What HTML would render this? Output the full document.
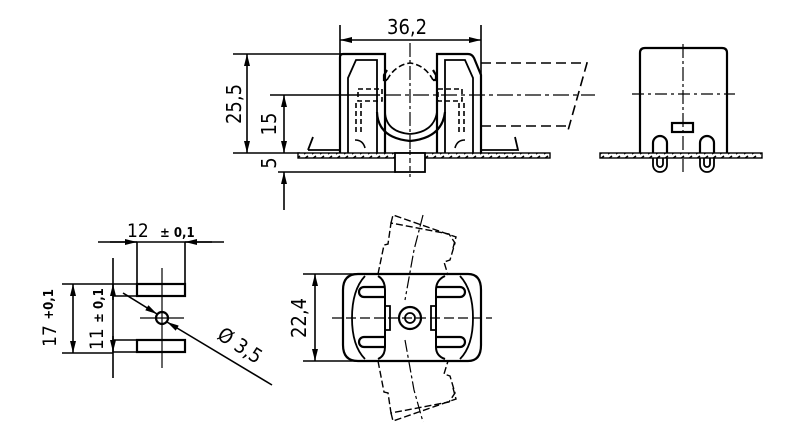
<!DOCTYPE html>
<html><head><meta charset="utf-8"><style>
html,body{margin:0;padding:0;background:#fff;}
svg{display:block;}
text{font-family:"DejaVu Sans Condensed","Liberation Sans",sans-serif;fill:#000;}
</style></head><body>
<svg width="800" height="434" viewBox="0 0 800 434" xmlns="http://www.w3.org/2000/svg">
<defs>
<marker id="a" markerWidth="12" markerHeight="6" refX="12" refY="3" orient="auto" markerUnits="userSpaceOnUse"><path d="M0,0 L12,3 L0,6 Z" fill="#000"/></marker>
<pattern id="h" width="8" height="5" patternUnits="userSpaceOnUse"><rect width="8" height="5" fill="#fff"/><path d="M0,4 L4,1" stroke="#000" stroke-width="1.5"/></pattern>
</defs>
<g fill="none" stroke="#000" stroke-width="1.6">
<!-- TOP VIEW -->
<line x1="340" y1="25" x2="340" y2="150"/>
<line x1="481" y1="25" x2="481" y2="150"/>
<line x1="410" y1="40" x2="340" y2="40" marker-end="url(#a)"/>
<line x1="410" y1="40" x2="481" y2="40" marker-end="url(#a)"/>
<line x1="233" y1="54" x2="345" y2="54"/>
<line x1="233" y1="153" x2="300" y2="153"/>
<line x1="247" y1="104" x2="247" y2="54" marker-end="url(#a)"/>
<line x1="247" y1="104" x2="247" y2="153" marker-end="url(#a)"/>
<line x1="270" y1="95" x2="380" y2="95"/>
<line x1="284" y1="124" x2="284" y2="95" marker-end="url(#a)"/>
<line x1="284" y1="124" x2="284" y2="153" marker-end="url(#a)"/>
<line x1="284" y1="210" x2="284" y2="172" marker-end="url(#a)"/>
<line x1="278" y1="172" x2="396" y2="172"/>
<path d="M340,153 V57 Q340,54 343,54 H385 V153" stroke-width="2.2"/>
<path d="M348,153 V78 L356,60 H377 V153" stroke-width="1.8"/>
<path d="M481,153 V75 L474,58 Q472,54 468,54 H437 V153" stroke-width="2.2"/>
<path d="M473,153 V78 L465,60 H445 V153" stroke-width="1.8"/>
<path d="M308,150 L313,137 M308,150 H340 M515,137 L518,150 H481" stroke-width="1.8"/>
<path d="M377,112 Q378,138 410,141 Q442,138 445,112" stroke-width="2.2"/>
<path d="M385,112 Q386,132 410,134 Q434,132 437,112" stroke-width="1.8"/>
<path d="M387,80 Q395,65 410,63 Q425,65 433,80" stroke-dasharray="6,3"/>
<path d="M387,70 l-3,5 v5 l3,0 M433,70 l3,5 v5 l-3,0" stroke-width="2.2"/>
<path d="M358,89 h24 v12 h-24 z M438,89 h24 v12 h-24 z" stroke-dasharray="5,3"/>
<path d="M356,103 v30 M361,103 v30 M459,103 v30 M464,103 v30" stroke-dasharray="5,3"/>
<path d="M355,140 q8,0 10,8 M465,140 q-8,0 -10,8"/>
<line x1="410" y1="43" x2="410" y2="175" stroke-dasharray="14,3,3,3" stroke-width="1.2"/>
<line x1="385" y1="95" x2="595" y2="95" stroke-dasharray="16,4,4,4" stroke-width="1.3"/>
<path d="M481,63 H587 L567,134 M481,126 H568" stroke-dasharray="10,5"/>
<rect x="298" y="153" width="252" height="5" fill="url(#h)" stroke-width="1.4"/>
<rect x="395" y="153" width="30" height="19" fill="#fff" stroke-width="1.8"/>
<line x1="410" y1="150" x2="410" y2="177" stroke-dasharray="5,3" stroke-width="1.2"/>
<!-- SIDE VIEW -->
<path d="M640,153 V53 Q640,48 645,48 H722 Q727,48 727,53 V153" stroke-width="2.2"/>
<line x1="683" y1="44" x2="683" y2="172" stroke-dasharray="14,3,3,3" stroke-width="1.2"/>
<line x1="632" y1="94" x2="735" y2="94" stroke-dasharray="12,4,3,4" stroke-width="1.3"/>
<rect x="672" y="123" width="21" height="9" stroke-width="2.2"/>
<rect x="600" y="153" width="162" height="5" fill="url(#h)" stroke-width="1.4"/>
<path d="M653,153 V143 a7,7 0 0 1 14,0 V153 M700,153 V143 a7,7 0 0 1 14,0 V153" stroke-width="2.2"/>
<path d="M653,158 V165 a7,7 0 0 0 14,0 V158 M657,158 V164 a3,3 0 0 0 6,0 V158 M700,158 V165 a7,7 0 0 0 14,0 V158 M704,158 V164 a3,3 0 0 0 6,0 V158" stroke-width="1.8"/>
<!-- BOTTOM LEFT -->
<line x1="98" y1="242" x2="224" y2="242"/>
<line x1="110" y1="242" x2="137" y2="242" marker-end="url(#a)"/>
<line x1="212" y1="242" x2="185" y2="242" marker-end="url(#a)"/>
<line x1="137" y1="242" x2="137" y2="296"/>
<line x1="185" y1="242" x2="185" y2="296"/>
<rect x="137" y="284" width="48" height="12" stroke-width="2.2"/>
<path d="M113,284 H137 M113,296 H137"/>
<rect x="137" y="340" width="48" height="12" stroke-width="2.2"/>
<path d="M113,340 H137 M113,352 H137"/>
<line x1="113" y1="258" x2="113" y2="378"/>
<line x1="113" y1="300" x2="113" y2="284" marker-end="url(#a)"/>
<line x1="113" y1="336" x2="113" y2="352" marker-end="url(#a)"/>
<line x1="62" y1="284" x2="113" y2="284"/>
<line x1="62" y1="353" x2="113" y2="353"/>
<line x1="73" y1="318" x2="73" y2="284" marker-end="url(#a)"/>
<line x1="73" y1="318" x2="73" y2="353" marker-end="url(#a)"/>
<line x1="162" y1="268" x2="162" y2="368" stroke-width="1.2"/>
<line x1="140" y1="318" x2="184" y2="318" stroke-width="1.2"/>
<circle cx="162" cy="318" r="6" stroke-width="2.2"/>
<line x1="123" y1="293" x2="157" y2="314" marker-end="url(#a)"/>
<line x1="272" y1="385" x2="167" y2="322" marker-end="url(#a)"/>
<!-- BOTTOM MIDDLE -->
<line x1="303" y1="274" x2="360" y2="274"/>
<line x1="303" y1="361" x2="360" y2="361"/>
<line x1="315" y1="318" x2="315" y2="274" marker-end="url(#a)"/>
<line x1="315" y1="318" x2="315" y2="361" marker-end="url(#a)"/>
<path d="M358,274 H468 Q481,274 481,290 V345 Q481,361 468,361 H358 Q343,361 343,345 V290 Q343,274 358,274 Z" stroke-width="2.2"/>
<path d="M365,276 Q352,290 352,318 Q352,346 365,359" stroke-width="1.8"/>
<path d="M460,276 Q473,290 473,318 Q473,346 460,359" stroke-width="1.8"/>
<path d="M378,276 Q385,280 385,290 V347 Q385,356 378,359" stroke-width="2"/>
<path d="M445,276 Q436,280 436,290 V347 Q436,356 445,359" stroke-width="2"/>
<path d="M385,287 H364 a5,5 0 0 0 0,10 H385 M385,337 H364 a5,5 0 0 0 0,10 H385" stroke-width="2.2"/>
<path d="M436,287 H460 a5,5 0 0 1 0,10 H436 M436,337 H460 a5,5 0 0 1 0,10 H436" stroke-width="2.2"/>
<path d="M385,306 h5 v24 h-5 M436,306 h-5 v24 h5" stroke-width="1.8"/>
<circle cx="410" cy="318" r="11" stroke-width="2.2"/>
<circle cx="410" cy="318" r="5" stroke-width="1.8"/>
<line x1="332" y1="318" x2="492" y2="318" stroke-dasharray="10,4" stroke-width="1.3"/>
<path d="M423,215 L414,250 L405,300 M405,340 L414,390 L423,422" stroke-dasharray="12,3,3,3" stroke-width="1.2"/>
<path d="M378,274 L384,245 L388,244 L391,223 L449,234 L455,243 L450,260 L444,262 L448,275" stroke-dasharray="7,3" stroke-width="1.4"/>
<path d="M391,223 L393,215 L456,237 L453,248" stroke-dasharray="7,3" stroke-width="1.4"/>
<path d="M378,361 L384,392 L388,393 L391,413 L449,402 L455,393 L450,376 L444,374 L448,361" stroke-dasharray="7,3" stroke-width="1.4"/>
<path d="M391,413 L393,421 L456,399 L453,388" stroke-dasharray="7,3" stroke-width="1.4"/>
</g>
<g font-size="17">
<text x="387" y="34" font-size="20">36,2</text>
<text transform="translate(241,104) rotate(-90)" text-anchor="middle" font-size="20">25,5</text>
<text transform="translate(276,124) rotate(-90)" text-anchor="middle" font-size="20">15</text>
<text transform="translate(276,163) rotate(-90)" text-anchor="middle" font-size="20">5</text>
<text x="127" y="237" font-size="19">12</text>
<text x="160" y="237" font-size="13" font-weight="bold">± 0,1</text>
<text transform="translate(56,318) rotate(-90)" text-anchor="middle" font-size="19">17 <tspan font-size="13" font-weight="bold" dy="-3">+0,1</tspan></text>
<text transform="translate(103,350) rotate(-90)" font-size="19">11 <tspan font-size="13" font-weight="bold">± 0,1</tspan></text>
<text transform="translate(216,338) rotate(33)" font-size="20">Ø 3,5</text>
<text transform="translate(306,318) rotate(-90)" text-anchor="middle" font-size="20">22,4</text>
</g>
</svg>
</body></html>
